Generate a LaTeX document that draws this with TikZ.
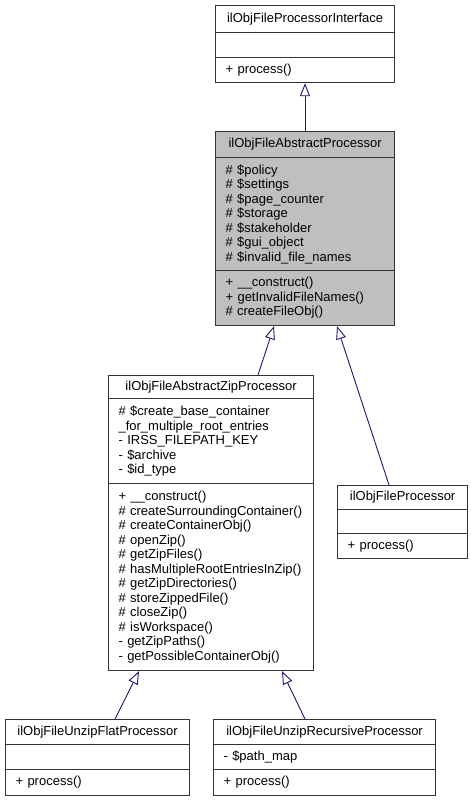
\documentclass[tikz,border=0pt]{standalone}
\usepackage{fontspec}
\setmainfont{Liberation Sans}
\usetikzlibrary{arrows.meta}
\definecolor{edgeblue}{HTML}{191970}
\definecolor{absgray}{HTML}{BFBFBF}
\begin{document}
\begin{tikzpicture}[x=1pt,y=-1pt,
  sect/.style={draw=black!80, line width=1.2pt, anchor=north west, inner xsep=10pt, inner ysep=0pt,
    font=\fontsize{13}{14.5}\selectfont, align=left, fill=white},
  ttl/.style={sect, align=center},
  inh/.style={draw=edgeblue, line width=0.9pt, -{Triangle[open, length=13pt, width=10pt, line width=0.9pt]}}
]
\useasboundingbox (0,0) rectangle (471,801);

% ilObjFileProcessorInterface
\node[ttl, text width=159pt, minimum height=27pt] (ifT) at (215,5) {ilObjFileProcessorInterface};
\node[sect, text width=159pt, minimum height=25pt] (ifA) at (215,32) {};
\node[sect, text width=159pt, minimum height=25pt] (ifM) at (215,57) {+ process()};

% ilObjFileAbstractProcessor
\node[ttl, fill=absgray, text width=159pt, minimum height=26pt] (abT) at (215,131) {ilObjFileAbstractProcessor};
\node[sect, fill=absgray, text width=159pt, minimum height=113pt] (abA) at (215,157)
  {\# \$policy\\ \# \$settings\\ \# \$page\_counter\\ \# \$storage\\ \# \$stakeholder\\ \# \$gui\_object\\ \# \$invalid\_file\_names};
\node[sect, fill=absgray, text width=159pt, minimum height=55pt] (abM) at (215,270)
  {+ \_\_construct()\\ + getInvalidFileNames()\\ \# createFileObj()};

% ilObjFileAbstractZipProcessor
\node[ttl, text width=185pt, minimum height=23pt] (zpT) at (108,375) {ilObjFileAbstractZipProcessor};
\node[sect, text width=185pt, minimum height=85pt] (zpA) at (108,398)
  {\# \$create\_base\_container\\ \_for\_multiple\_root\_entries\\ - IRSS\_FILEPATH\_KEY\\ - \$archive\\ - \$id\_type};
\node[sect, text width=185pt, minimum height=187pt] (zpM) at (108,483)
  {+ \_\_construct()\\ \# createSurroundingContainer()\\ \# createContainerObj()\\ \# openZip()\\ \# getZipFiles()\\ \# hasMultipleRootEntriesInZip()\\ \# getZipDirectories()\\ \# storeZippedFile()\\ \# closeZip()\\ \# isWorkspace()\\ - getZipPaths()\\ - getPossibleContainerObj()};

% ilObjFileProcessor
\node[ttl, text width=110pt, minimum height=24pt] (fpT) at (337,485) {ilObjFileProcessor};
\node[sect, text width=110pt, minimum height=24pt] (fpA) at (337,509) {};
\node[sect, text width=110pt, minimum height=25pt] (fpM) at (337,533) {+ process()};

% ilObjFileUnzipFlatProcessor
\node[ttl, text width=164pt, minimum height=25pt] (flT) at (5,719) {ilObjFileUnzipFlatProcessor};
\node[sect, text width=164pt, minimum height=25pt] (flA) at (5,744) {};
\node[sect, text width=164pt, minimum height=26pt] (flM) at (5,769) {+ process()};

% ilObjFileUnzipRecursiveProcessor
\node[ttl, text width=202pt, minimum height=25pt] (rcT) at (213,719) {ilObjFileUnzipRecursiveProcessor};
\node[sect, text width=202pt, minimum height=25pt] (rcA) at (213,744) {- \$path\_map};
\node[sect, text width=202pt, minimum height=26pt] (rcM) at (213,769) {+ process()};

% inheritance
\draw[inh] ([xshift=90pt]abT.north west) -- ([xshift=90pt]ifM.south west);
\draw[inh] ([xshift=150pt]zpT.north west) -- ([xshift=59pt]abM.south west);
\draw[inh] ([xshift=52pt]fpT.north west) -- ([xshift=122pt]abM.south west);
\draw[inh] ([xshift=110pt]flT.north west) -- ([xshift=31pt]zpM.south west);
\draw[inh] ([xshift=92pt]rcT.north west) -- ([xshift=174pt]zpM.south west);
\end{tikzpicture}
\end{document}
